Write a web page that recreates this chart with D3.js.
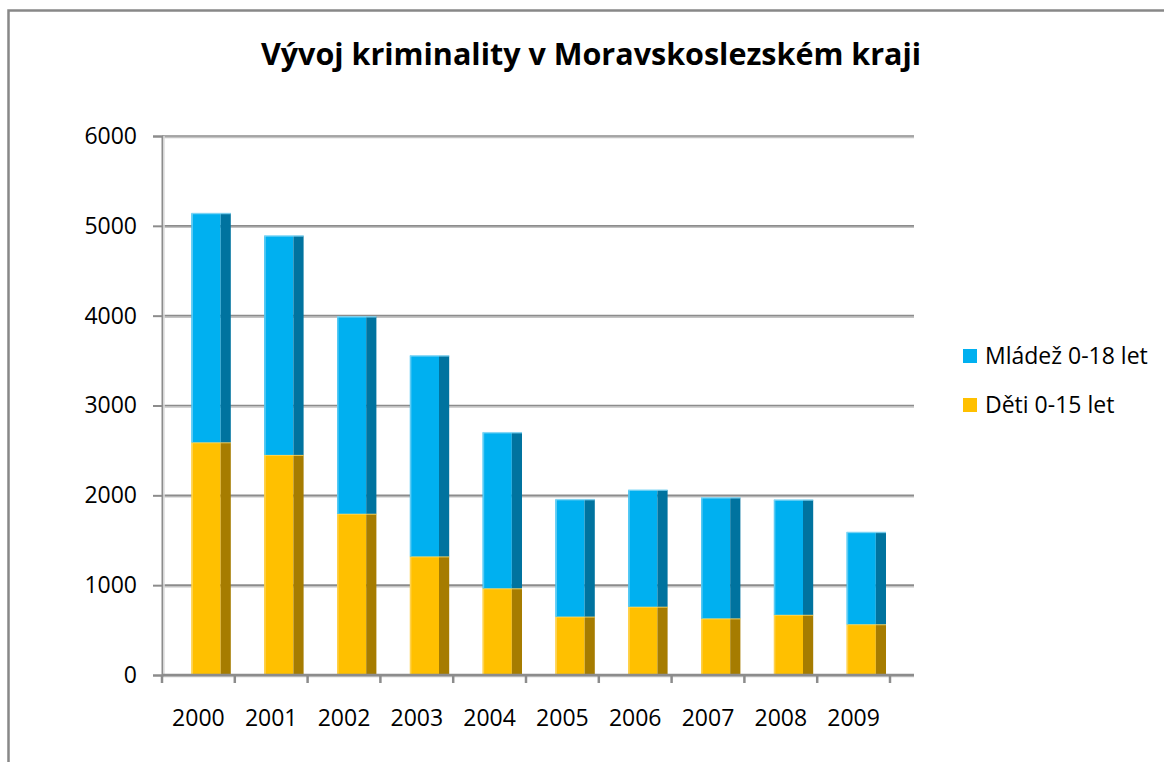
<!DOCTYPE html>
<html>
<head>
<meta charset="utf-8">
<script src="https://cdn.jsdelivr.net/npm/d3@7/dist/d3.min.js"></script>
<style>
  body { margin: 0; background: #fff; }
  svg { display: block; font-family: "Open Sans", sans-serif; }
</style>
</head>
<body>
<div id="graf"></div>
<script>
// hodnoty
const years = ["2000", "2001", "2002", "2003", "2004", "2005", "2006", "2007", "2008", "2009"];
const detiValues = [2590, 2450, 1795, 1320, 965, 650, 760, 630, 670, 565];
const mladezValues = [2550, 2440, 2195, 2235, 1735, 1305, 1300, 1345, 1280, 1025];
const yTicks = [0, 1000, 2000, 3000, 4000, 5000, 6000];
const seriesNames = { deti: "Děti 0-15 let", mladez: "Mládež 0-18 let" };

let width = 1164, height = 762;
let plot = { left: 162, right: 890, top: 136, bottom: 675, depth: 24 };

let colors = {
    mladez: { front: "#00b0f0", side: "#00739f", edge: "#5ccbf4", top: "#8ad8f5" },
    deti: { front: "#ffc000", side: "#a67c00", edge: "#ffd24d", top: "#ffd966" }
};

let rows = years.map((y, i) => ({ year: y, deti: detiValues[i], mladez: mladezValues[i] }));
let stack = d3.stack().keys(["deti", "mladez"])(rows);

let x = d3.scaleBand().domain(years).range([plot.left, plot.right]);
let y = d3.scaleLinear().domain([0, 6000]).range([plot.bottom, plot.top]);
let bw = x.bandwidth();

let svg = d3.select("#graf").append("svg")
    .attr("width", width)
    .attr("height", height);

// rámeček
svg.append("path")
    .attr("d", `M8.5,${height} V10.5 H${width}`)
    .attr("fill", "none")
    .attr("stroke", "#888")
    .attr("stroke-width", 2.5);

svg.append("text")
    .attr("x", 591)
    .attr("y", 65)
    .attr("text-anchor", "middle")
    .attr("font-size", 30.5)
    .attr("font-weight", 700)
    .attr("fill", "#000")
    .text("Vývoj kriminality v Moravskoslezském kraji");

// mřížka
const grid = svg.append("g");
grid.selectAll(".shadow")
    .data(yTicks)
    .join("line")
    .attr("x1", plot.left).attr("x2", plot.right + plot.depth)
    .attr("y1", d => y(d) + 1.5).attr("y2", d => y(d) + 1.5)
    .attr("stroke", "#c4c4c4")
    .attr("stroke-width", 1.5);
grid.selectAll(".gl")
    .data(yTicks)
    .join("line")
    .attr("x1", plot.left).attr("x2", plot.right + plot.depth)
    .attr("y1", d => y(d)).attr("y2", d => y(d))
    .attr("stroke", "#8c8c8c")
    .attr("stroke-width", 1.6);

// osa Y
const yAxis = svg.append("g").attr("transform", `translate(${plot.left},0)`)
    .call(d3.axisLeft(y).tickValues(yTicks).tickFormat(d3.format("d")).tickSize(9).tickPadding(16));
yAxis.select(".domain").attr("stroke", "#8c8c8c").attr("stroke-width", 2);
yAxis.selectAll(".tick line").attr("stroke", "#8c8c8c").attr("stroke-width", 2);
yAxis.selectAll(".tick text")
    .attr("font-size", 23)
    .attr("font-family", "Open Sans")
    .attr("fill", "#000");
svg.append("line")
    .attr("x1", plot.left + 2).attr("x2", plot.left + 2)
    .attr("y1", plot.top).attr("y2", plot.bottom)
    .attr("stroke", "#dcdcdc").attr("stroke-width", 1.5);

// sloupce
const layers = svg.append("g")
    .selectAll("g")
    .data(stack)
    .join("g");

const fx = d => x(d.data.year) + bw * 0.405;
const fw = bw * 0.40;
const sw = bw * 0.14;

layers.each(function(layer) {
    const c = colors[layer.key];
    const g = d3.select(this);
    g.selectAll(".front").data(layer).join("rect")
        .attr("x", fx)
        .attr("y", d => y(d[1]))
        .attr("width", fw)
        .attr("height", d => y(d[0]) - y(d[1]))
        .attr("fill", c.front);
    g.selectAll(".side").data(layer).join("rect")
        .attr("x", d => fx(d) + fw)
        .attr("y", d => y(d[1]))
        .attr("width", sw)
        .attr("height", d => y(d[0]) - y(d[1]))
        .attr("fill", c.side);
    g.selectAll(".edge").data(layer).join("rect")
        .attr("x", fx)
        .attr("y", d => y(d[1]))
        .attr("width", 1.5)
        .attr("height", d => y(d[0]) - y(d[1]))
        .attr("fill", c.edge);
    g.selectAll(".top").data(layer).join("rect")
        .attr("x", fx)
        .attr("y", d => y(d[1]) - 0.5)
        .attr("width", fw + sw)
        .attr("height", 1.5)
        .attr("fill", c.top)
        .attr("opacity", 0.8);
});

// osa X
const xAxis = svg.append("g").attr("transform", `translate(0,${plot.bottom})`);
xAxis.append("line")
    .attr("x1", plot.left).attr("x2", plot.right + plot.depth)
    .attr("stroke", "#8c8c8c").attr("stroke-width", 2.5);
xAxis.selectAll(".xt")
    .data(years.concat(["end"]))
    .join("line")
    .attr("x1", (d, i) => plot.left + i * bw)
    .attr("x2", (d, i) => plot.left + i * bw)
    .attr("y1", 0).attr("y2", 8)
    .attr("stroke", "#8c8c8c").attr("stroke-width", 2.5);
xAxis.selectAll("text")
    .data(years)
    .join("text")
    .attr("x", d => x(d) + bw / 2)
    .attr("y", 51)
    .attr("text-anchor", "middle")
    .attr("font-size", 23)
    .attr("fill", "#000")
    .text(d => d);

// legenda
const legend = svg.append("g")
    .selectAll("g")
    .data(["mladez", "deti"])
    .join("g")
    .attr("transform", (d, i) => `translate(963,${349 + i * 49})`);
legend.append("rect")
    .attr("width", 14).attr("height", 14)
    .attr("fill", d => colors[d].front);
legend.append("text")
    .attr("x", 22)
    .attr("y", 15)
    .attr("font-size", 23)
    .attr("fill", "#000")
    .text(d => seriesNames[d]);
</script>
</body>
</html>
